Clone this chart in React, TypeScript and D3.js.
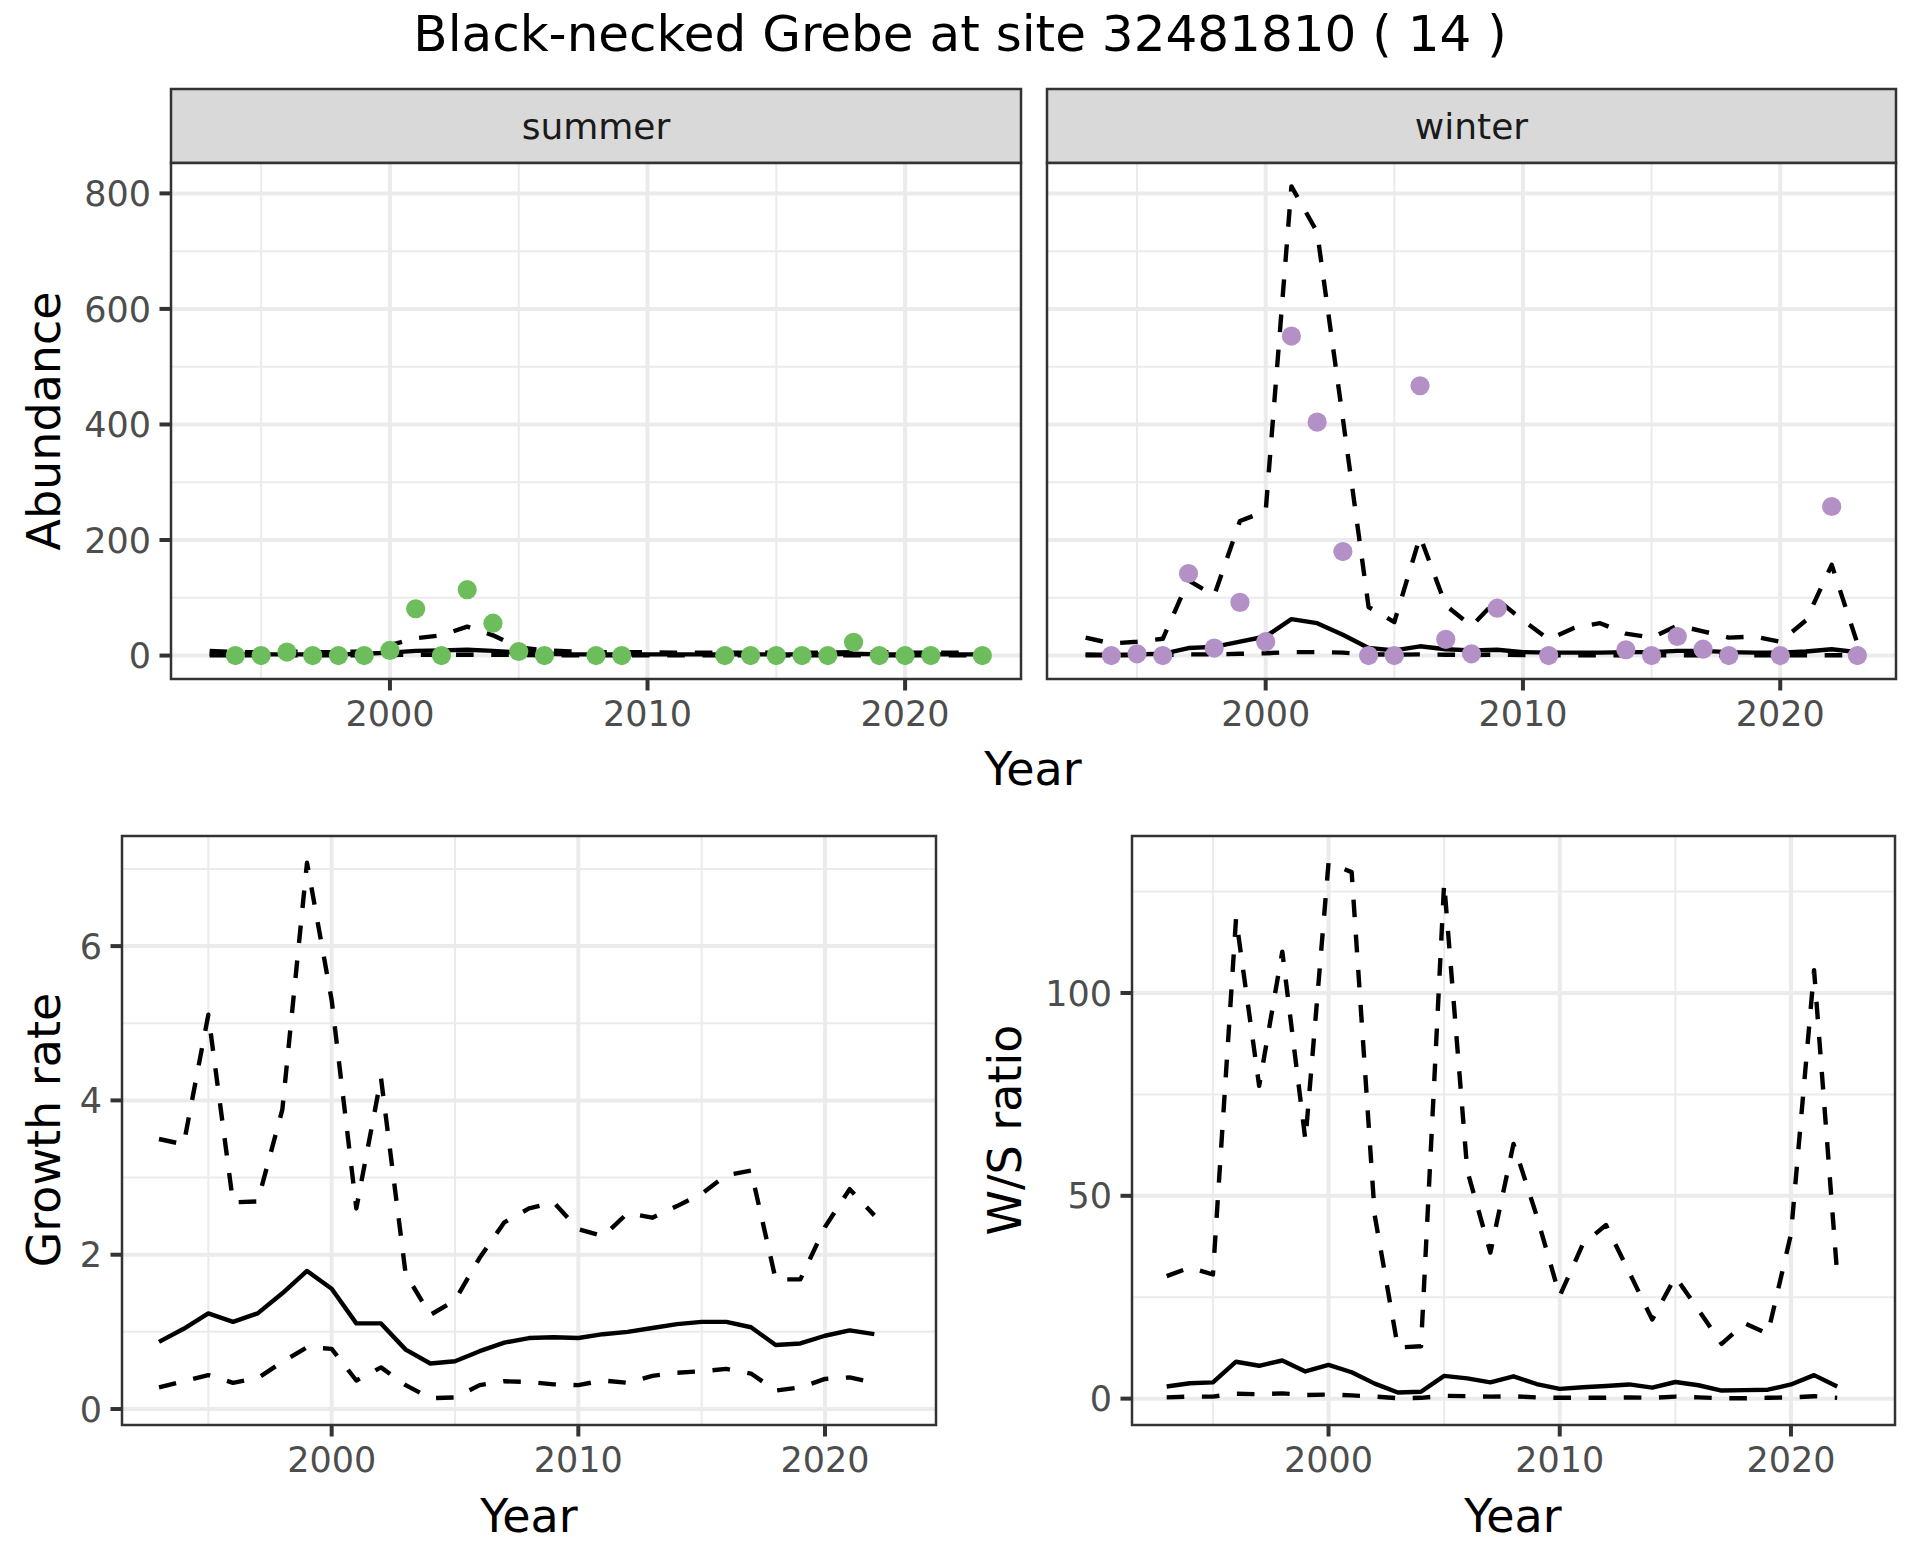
import React, { useEffect } from 'react';
import * as d3 from 'd3';

// years covered by the model output (abundance panels)
const years = [1993, 1994, 1995, 1996, 1997, 1998, 1999, 2000, 2001, 2002, 2003, 2004, 2005, 2006, 2007, 2008,
  2009, 2010, 2011, 2012, 2013, 2014, 2015, 2016, 2017, 2018, 2019, 2020, 2021, 2022, 2023];

// summer fitted abundance with interval
const summerUpper = [8, 6, 6, 7, 6, 6, 7, 18, 30, 35, 50, 35, 14, 9, 7, 6, 6, 6, 5, 5, 5, 5, 5, 5, 5, 6, 6, 5, 5, 5, 6];
const summerMid = [3, 2, 2, 2, 2, 2, 3, 5, 8, 9, 10, 8, 5, 3, 2, 2, 2, 2, 2, 2, 2, 2, 2, 2, 2, 3, 2, 2, 2, 2, 2];
const summerLower = [0.5, 0.5, 0.5, 0.5, 0.5, 0.5, 0.5, 1, 1.5, 1.5, 1.5, 1.5, 1, 0.5, 0.5, 0.5, 0.5, 0.5, 0.5, 0.5,
  0.5, 0.5, 0.5, 0.5, 0.5, 0.5, 0.5, 0.5, 0.5, 0.5, 0.5];

// winter fitted abundance with interval
const winterUpper = [31, 21, 24, 29, 130, 104, 233, 250, 812, 733, 410, 84, 58, 206, 87, 51, 97, 61, 28, 48, 56, 38,
  31, 52, 42, 31, 33, 24, 61, 157, 21];
const winterMid = [2, 1, 2, 3, 13, 15, 24, 33, 63, 56, 36, 13, 9, 16, 11, 9, 10, 6, 5, 5, 5, 6, 6, 8, 8, 6, 5, 5, 7, 11, 6];
const winterLower = [0.5, 0.5, 0.8, 1, 2, 2, 3, 4, 6, 6, 5, 2, 1.5, 2, 1.5, 1, 1.5, 1, 0.5, 0.5, 0.5, 0.5, 0.5, 0.5,
  0.5, 0.5, 0.5, 0.5, 0.5, 0.5, 0.5];

// observed counts
const summerCountYears = [1994, 1995, 1996, 1997, 1998, 1999, 2000, 2001, 2002, 2003, 2004, 2005, 2006, 2008, 2009,
  2013, 2014, 2015, 2016, 2017, 2018, 2019, 2020, 2021, 2023];
const summerCounts = [0, 0, 6, 0, 0, 0, 9, 81, 0, 114, 56, 7, 0, 0, 0, 0, 0, 0, 0, 0, 23, 0, 0, 0, 0];
const winterCountYears = [1994, 1995, 1996, 1997, 1998, 1999, 2000, 2001, 2002, 2003, 2004, 2005, 2006, 2007, 2008,
  2009, 2011, 2014, 2015, 2016, 2017, 2018, 2020, 2022, 2023];
const winterCounts = [0, 3, 0, 142, 13, 92, 24, 553, 404, 180, 0, 0, 467, 28, 3, 82, 0, 10, 0, 33, 11, 0, 0, 258, 0];

// growth rate and winter/summer ratio
const rateYears = [1993, 1994, 1995, 1996, 1997, 1998, 1999, 2000, 2001, 2002, 2003, 2004, 2005, 2006, 2007, 2008,
  2009, 2010, 2011, 2012, 2013, 2014, 2015, 2016, 2017, 2018, 2019, 2020, 2021, 2022];
const growthUpper = [3.5, 3.43, 5.11, 2.68, 2.69, 3.88, 7.08, 5.3, 2.6, 4.29, 1.75, 1.22, 1.41, 1.96, 2.42, 2.6, 2.68,
  2.33, 2.24, 2.54, 2.48, 2.63, 2.79, 3.03, 3.09, 1.68, 1.68, 2.36, 2.85, 2.51];
const growthMid = [0.87, 1.04, 1.24, 1.13, 1.24, 1.5, 1.79, 1.56, 1.11, 1.11, 0.77, 0.59, 0.62, 0.75, 0.86, 0.92, 0.93,
  0.92, 0.97, 1.0, 1.05, 1.1, 1.13, 1.13, 1.06, 0.83, 0.85, 0.95, 1.02, 0.97];
const growthLower = [0.28, 0.36, 0.44, 0.34, 0.4, 0.61, 0.8, 0.78, 0.37, 0.54, 0.31, 0.14, 0.15, 0.31, 0.36, 0.35, 0.32,
  0.31, 0.37, 0.34, 0.43, 0.47, 0.49, 0.52, 0.46, 0.24, 0.28, 0.39, 0.41, 0.34];
const ratioUpper = [30.2, 32.3, 30.6, 118.4, 77.1, 110.2, 63.7, 132.1, 129.8, 45.1, 12.6, 12.9, 127.1, 56.2, 36.0, 62.8,
  45.1, 25.3, 38.1, 42.8, 31.2, 19.5, 30.0, 21.9, 13.5, 18.6, 16.0, 40.5, 105.6, 30.6];
const ratioMid = [3.0, 3.8, 4.0, 9.1, 8.1, 9.4, 6.7, 8.3, 6.5, 3.7, 1.5, 1.7, 5.6, 5.0, 4.0, 5.5, 3.6, 2.4, 2.8, 3.1,
  3.5, 2.7, 4.1, 3.3, 2.0, 2.1, 2.2, 3.5, 5.8, 3.0];
const ratioLower = [0.3, 0.5, 0.5, 1.2, 1.1, 1.3, 0.9, 1.0, 0.8, 0.5, 0.1, 0.2, 0.7, 0.6, 0.5, 0.6, 0.3, 0.2, 0.2, 0.2,
  0.3, 0.2, 0.5, 0.3, 0.1, 0.1, 0.2, 0.3, 0.6, 0.2];

// axis breaks
const yearTicks = [2000, 2010, 2020];
const abundanceTicks = [0, 200, 400, 600, 800];
const growthTicks = [0, 2, 4, 6];
const ratioTicks = [0, 50, 100];

const FONT = 'DejaVu Sans';
const GRID = '#EBEBEB';
const DARK = '#333333';
const TICK_TEXT = '#4D4D4D';
const TICK_SIZE = 35;
const TITLE_SIZE = 46;

// ggplot-style 5% expansion
const expand = (ext: number[]) => {
  const d = ext[1] - ext[0];
  return [ext[0] - 0.05 * d, ext[1] + 0.05 * d];
};

const minorOf = (ticks: number[], dom: number[]) => {
  const step = ticks[1] - ticks[0];
  const out: number[] = [];
  for (let v = ticks[0] - step / 2; v <= dom[1]; v += step) {
    if (v >= dom[0]) out.push(v);
  }
  return out;
};

type Series = { xs: number[]; ys: number[]; dashed: boolean };

interface PanelProps {
  x: number; y: number; w: number; h: number;
  xDomain: number[]; yDomain: number[];
  yTicks: number[];
  showYLabels: boolean;
  series: Series[];
  pts?: { xs: number[]; ys: number[]; color: string };
}

const Panel: React.FC<PanelProps> = ({ x, y, w, h, xDomain, yDomain, yTicks, showYLabels, series, pts }) => {
  const xs = d3.scaleLinear().domain(xDomain).range([x, x + w]);
  const ys = d3.scaleLinear().domain(yDomain).range([y + h, y]);
  const line = d3.line<[number, number]>().x(d => xs(d[0])).y(d => ys(d[1]));
  const xMinor = minorOf(yearTicks, xDomain);
  const yMinor = minorOf(yTicks, yDomain);

  return (
    <g>
      <rect x={x} y={y} width={w} height={h} fill="white" />
      {xMinor.map(v => <line key={'xm' + v} x1={xs(v)} x2={xs(v)} y1={y} y2={y + h} stroke={GRID} strokeWidth={2} />)}
      {yMinor.map(v => <line key={'ym' + v} x1={x} x2={x + w} y1={ys(v)} y2={ys(v)} stroke={GRID} strokeWidth={2} />)}
      {yearTicks.map(v => <line key={'xM' + v} x1={xs(v)} x2={xs(v)} y1={y} y2={y + h} stroke={GRID} strokeWidth={4} />)}
      {yTicks.map(v => <line key={'yM' + v} x1={x} x2={x + w} y1={ys(v)} y2={ys(v)} stroke={GRID} strokeWidth={4} />)}
      {series.map((s, i) => (
        <path key={'s' + i} d={line(s.xs.map((v, j) => [v, s.ys[j]] as [number, number])) || ''}
          fill="none" stroke="black" strokeWidth={4.4}
          strokeDasharray={s.dashed ? '17.6,17.6' : undefined} strokeLinejoin="round" />
      ))}
      {pts && pts.xs.map((v, i) => (
        <circle key={'p' + i} cx={xs(v)} cy={ys(pts.ys[i])} r={9.6} fill={pts.color} />
      ))}
      <rect x={x} y={y} width={w} height={h} fill="none" stroke={DARK} strokeWidth={2.5} />
      {yearTicks.map(v => (
        <g key={'xt' + v}>
          <line x1={xs(v)} x2={xs(v)} y1={y + h} y2={y + h + 11.5} stroke={DARK} strokeWidth={4} />
          <text x={xs(v)} y={y + h + 47} textAnchor="middle" fontFamily={FONT} fontSize={TICK_SIZE} fill={TICK_TEXT}>{v}</text>
        </g>
      ))}
      {showYLabels && yTicks.map(v => (
        <g key={'yt' + v}>
          <line x1={x - 11.5} x2={x} y1={ys(v)} y2={ys(v)} stroke={DARK} strokeWidth={4} />
          <text x={x - 20} y={ys(v)} dy="0.36em" textAnchor="end" fontFamily={FONT} fontSize={TICK_SIZE} fill={TICK_TEXT}>{v}</text>
        </g>
      ))}
    </g>
  );
};

const App: React.FC = () => {
  useEffect(() => {
    document.body.style.margin = '0';
  }, []);

  const topX = expand(d3.extent(years) as number[]);
  const topY = expand([
    d3.min([...summerLower, ...winterLower, ...summerCounts, ...winterCounts]) as number,
    d3.max([...summerUpper, ...winterUpper, ...summerCounts, ...winterCounts]) as number,
  ]);
  const botX = expand(d3.extent(years) as number[]);
  const growthY = expand([d3.min(growthLower) as number, d3.max(growthUpper) as number]);
  const ratioY = expand([d3.min(ratioLower) as number, d3.max(ratioUpper) as number]);

  const panels = {
    summer: { x: 171, y: 163, w: 850, h: 516 },
    winter: { x: 1047, y: 163, w: 849, h: 516 },
    growth: { x: 122, y: 836, w: 814, h: 589 },
    ratio: { x: 1132, y: 836, w: 763, h: 589 },
  };

  const strip = (p: { x: number; w: number }, label: string) => (
    <g>
      <rect x={p.x} y={89} width={p.w} height={74} fill="#D9D9D9" stroke={DARK} strokeWidth={2.5} />
      <text x={p.x + p.w / 2} y={126} dy="0.36em" textAnchor="middle" fontFamily={FONT} fontSize={36} fill="#1A1A1A">{label}</text>
    </g>
  );

  return (
    <svg width={1920} height={1560} style={{ display: 'block', background: 'white' }}>
      <rect width={1920} height={1560} fill="white" />
      <text x={960} y={51} textAnchor="middle" fontFamily={FONT} fontSize={50} fill="black">
        Black-necked Grebe at site 32481810 ( 14 )
      </text>

      {strip(panels.summer, 'summer')}
      {strip(panels.winter, 'winter')}

      <Panel {...panels.summer} xDomain={topX} yDomain={topY} yTicks={abundanceTicks} showYLabels
        series={[
          { xs: years, ys: summerUpper, dashed: true },
          { xs: years, ys: summerMid, dashed: false },
          { xs: years, ys: summerLower, dashed: true },
        ]}
        pts={{ xs: summerCountYears, ys: summerCounts, color: '#6DBD5D' }} />
      <Panel {...panels.winter} xDomain={topX} yDomain={topY} yTicks={abundanceTicks} showYLabels={false}
        series={[
          { xs: years, ys: winterUpper, dashed: true },
          { xs: years, ys: winterMid, dashed: false },
          { xs: years, ys: winterLower, dashed: true },
        ]}
        pts={{ xs: winterCountYears, ys: winterCounts, color: '#B391C6' }} />

      <text x={1033} y={768} dy="0.36em" textAnchor="middle" fontFamily={FONT} fontSize={TITLE_SIZE} fill="black">Year</text>
      <text transform="translate(43,421) rotate(-90)" dy="0.36em" textAnchor="middle" fontFamily={FONT} fontSize={TITLE_SIZE} fill="black">Abundance</text>

      <Panel {...panels.growth} xDomain={botX} yDomain={growthY} yTicks={growthTicks} showYLabels
        series={[
          { xs: rateYears, ys: growthUpper, dashed: true },
          { xs: rateYears, ys: growthMid, dashed: false },
          { xs: rateYears, ys: growthLower, dashed: true },
        ]} />
      <text x={529} y={1515} dy="0.36em" textAnchor="middle" fontFamily={FONT} fontSize={TITLE_SIZE} fill="black">Year</text>
      <text transform="translate(43,1130) rotate(-90)" dy="0.36em" textAnchor="middle" fontFamily={FONT} fontSize={TITLE_SIZE} fill="black">Growth rate</text>

      <Panel {...panels.ratio} xDomain={botX} yDomain={ratioY} yTicks={ratioTicks} showYLabels
        series={[
          { xs: rateYears, ys: ratioUpper, dashed: true },
          { xs: rateYears, ys: ratioMid, dashed: false },
          { xs: rateYears, ys: ratioLower, dashed: true },
        ]} />
      <text x={1513} y={1515} dy="0.36em" textAnchor="middle" fontFamily={FONT} fontSize={TITLE_SIZE} fill="black">Year</text>
      <text transform="translate(1004,1130) rotate(-90)" dy="0.36em" textAnchor="middle" fontFamily={FONT} fontSize={TITLE_SIZE} fill="black">W/S ratio</text>
    </svg>
  );
};

export default App;
